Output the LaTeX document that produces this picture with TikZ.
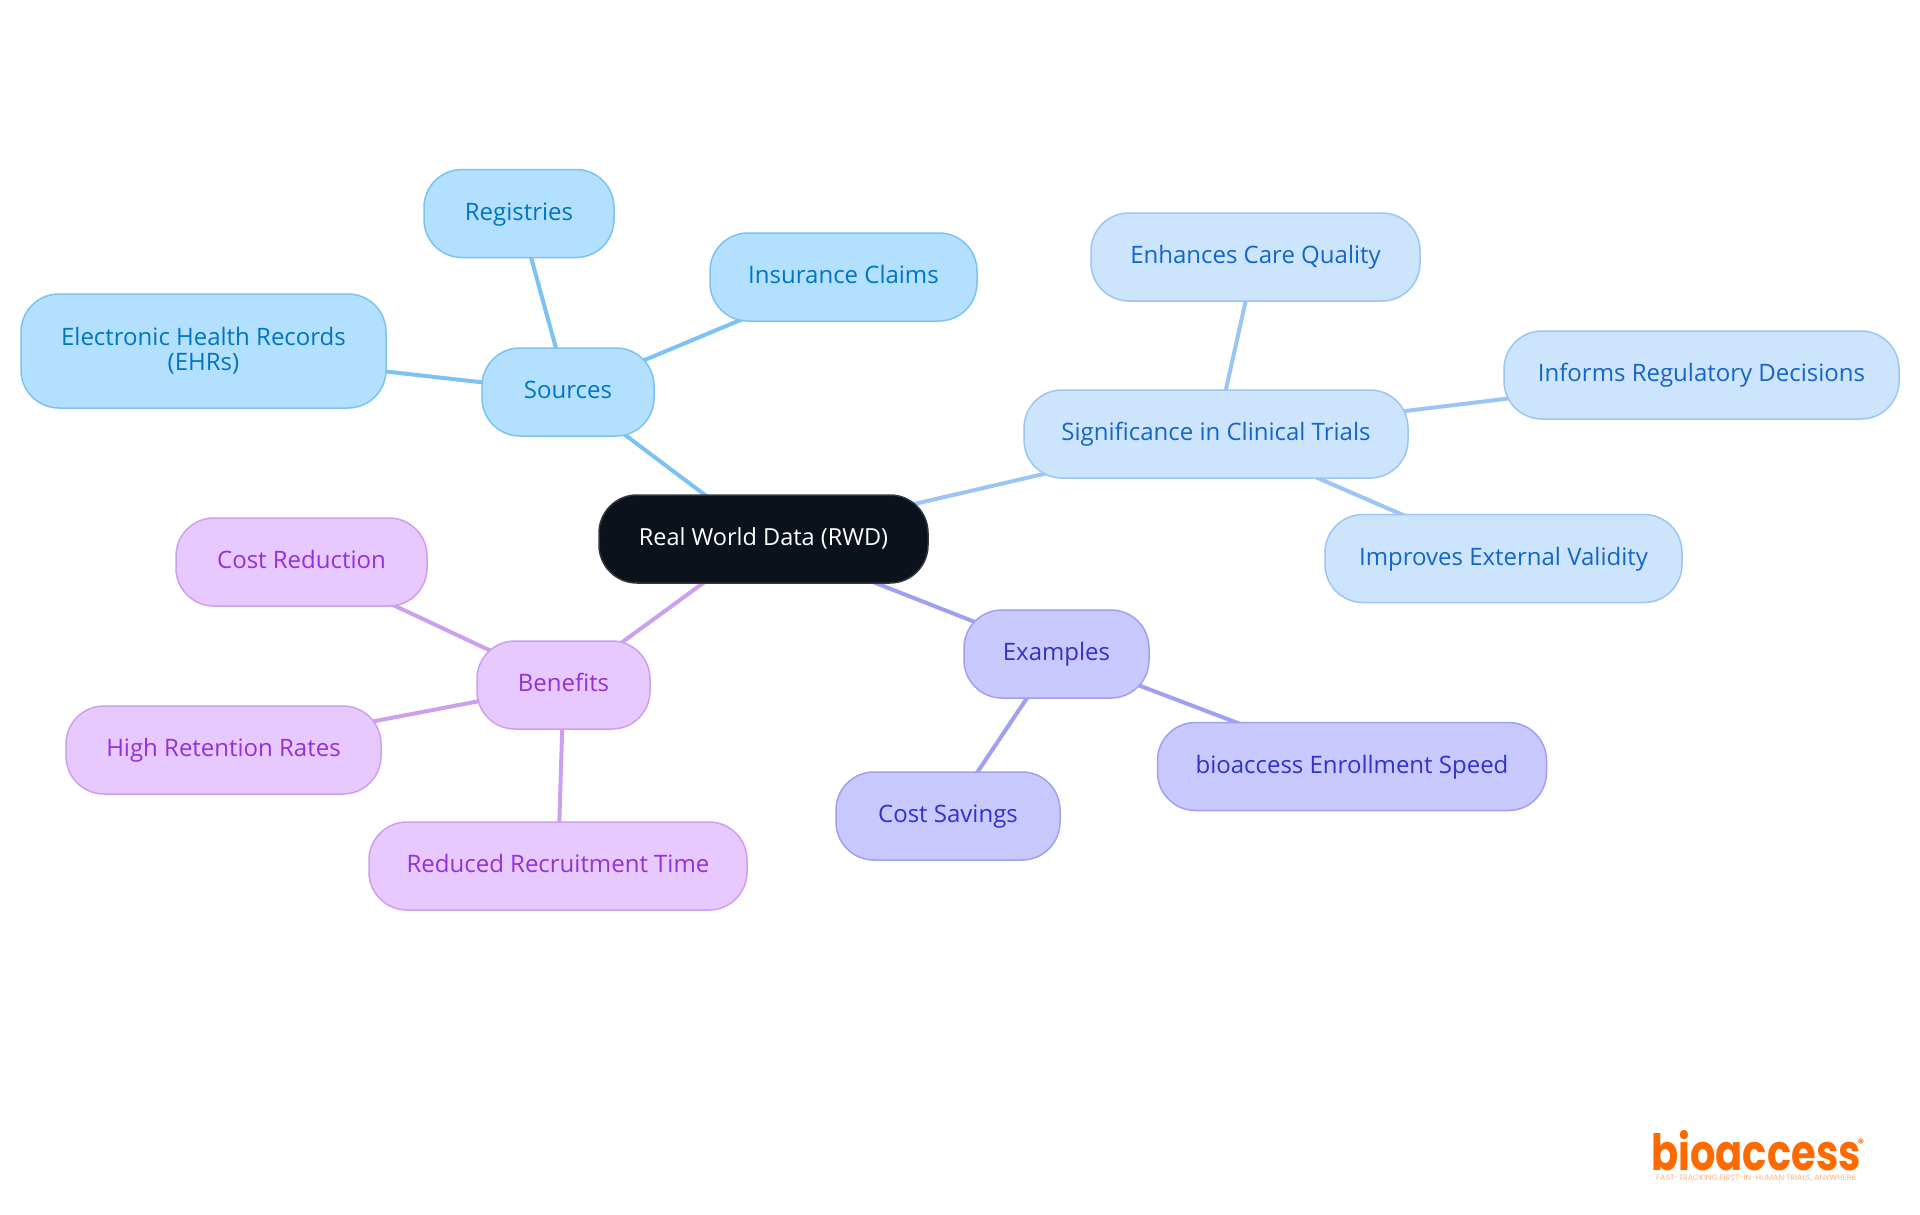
\documentclass[tikz,border=0pt]{standalone}
\usepackage{fontspec}
\setmainfont{Open Sans}
\newfontfamily\logofont{Poppins}
\usetikzlibrary{backgrounds}
\definecolor{srcF}{HTML}{B3E0FF}\definecolor{srcD}{HTML}{7CC2F2}\definecolor{srcT}{HTML}{0075C4}
\definecolor{sigF}{HTML}{CDE4FD}\definecolor{sigD}{HTML}{9CC5F5}\definecolor{sigT}{HTML}{1465C9}
\definecolor{exF}{HTML}{C9C9FF}\definecolor{exD}{HTML}{A09FF2}\definecolor{exT}{HTML}{3430CC}
\definecolor{benF}{HTML}{E8C9FF}\definecolor{benD}{HTML}{CC9FEF}\definecolor{benT}{HTML}{9130DC}
\definecolor{rootF}{HTML}{0C121B}\definecolor{logoC}{HTML}{FF6A00}
\tikzset{
  mm/.style={rectangle,rounded corners=38pt,line width=1.5pt,inner sep=0pt,align=center,font=\fontsize{24}{26}\selectfont,text height=22pt,text depth=9pt},
  src/.style={mm,fill=srcF,draw=srcD,text=srcT},
  sig/.style={mm,fill=sigF,draw=sigD,text=sigT},
  ex/.style={mm,fill=exF,draw=exD,text=exT},
  ben/.style={mm,fill=benF,draw=benD,text=benT},
  rootn/.style={mm,fill=rootF,draw=rootF!85!white,text=white,font=\fontsize{23.5}{26}\selectfont},
  box/.style n args={2}{minimum width=#1pt,minimum height=#2pt},
  edge/.style={line width=4pt},
}
\begin{document}
\begin{tikzpicture}[x=1pt,y=-1pt]
\useasboundingbox (0,0) rectangle (1920,1215);
\node[rootn,box={329}{88}] (root) at (763.5,539) {Real World Data (RWD)};
\node[src,box={172}{88}] (sources) at (568,392) {Sources};
\node[src,box={190}{88}] (registries) at (519,213.5) {Registries};
\node[src,box={267}{88}] (insurance) at (843.5,277) {Insurance Claims};
\node[src,box={365}{114},text height=,text depth=] (ehr) at (203.5,351) {Electronic Health Records\\[-1pt](EHRs)};
\node[sig,box={384}{88}] (signif) at (1216,434) {Significance in Clinical Trials};
\node[sig,box={329}{88}] (enhances) at (1255.5,257) {Enhances Care Quality};
\node[sig,box={395}{88}] (informs) at (1701.5,375) {Informs Regulatory Decisions};
\node[sig,box={357}{88}] (improves) at (1503.5,558.5) {Improves External Validity};
\node[ex,box={185}{88}] (examples) at (1056.5,654) {Examples};
\node[ex,box={389}{88}] (speed) at (1352,766.5) {bioaccess Enrollment Speed};
\node[ex,box={224}{88}] (savings) at (948,816) {Cost Savings};
\node[ben,box={173}{88}] (benefits) at (563.5,685) {Benefits};
\node[ben,box={251}{88}] (reduction) at (301.5,562) {Cost Reduction};
\node[ben,box={315}{88}] (retention) at (223.5,750) {High Retention Rates};
\node[ben,box={378}{88}] (recruit) at (558,866) {Reduced Recruitment Time};
\begin{scope}[on background layer]
\fill[white] (0,0) rectangle (1920,1215);
\draw[edge,srcD] (root.center)--(sources.center);
\draw[edge,srcD] (sources.center)--(registries.center);
\draw[edge,srcD] (sources.center)--(insurance.center);
\draw[edge,srcD] (sources.center)--(ehr.center);
\draw[edge,sigD] (root.center)--(signif.center);
\draw[edge,sigD] (signif.center)--(enhances.center);
\draw[edge,sigD] (signif.center)--(informs.center);
\draw[edge,sigD] (signif.center)--(improves.center);
\draw[edge,exD] (root.center)--(examples.center);
\draw[edge,exD] (examples.center)--(speed.center);
\draw[edge,exD] (examples.center)--(savings.center);
\draw[edge,benD] (root.center)--(benefits.center);
\draw[edge,benD] (benefits.center)--(reduction.center);
\draw[edge,benD] (benefits.center)--(retention.center);
\draw[edge,benD] (benefits.center)--(recruit.center);
\end{scope}
\node[anchor=base,inner sep=0pt,text=logoC,xscale=0.8,transform shape,font=\logofont\bfseries\fontsize{50}{50}\selectfont,text depth=0pt] (logo) at (1756,1170) {bioaccess};
\node[anchor=base,inner sep=0pt,text=logoC,font=\logofont\bfseries\fontsize{12}{12}\selectfont,text depth=0pt] (reg) at (1861,1147) {®};
\node[anchor=base,inner sep=0pt,text=logoC!50!white,font=\logofont\fontsize{7.9}{8}\selectfont,text height=6pt,text depth=0pt] (tag) at (1756,1180) {FAST-TRACKING FIRST-IN-HUMAN TRIALS, ANYWHERE};
\end{tikzpicture}
\end{document}
